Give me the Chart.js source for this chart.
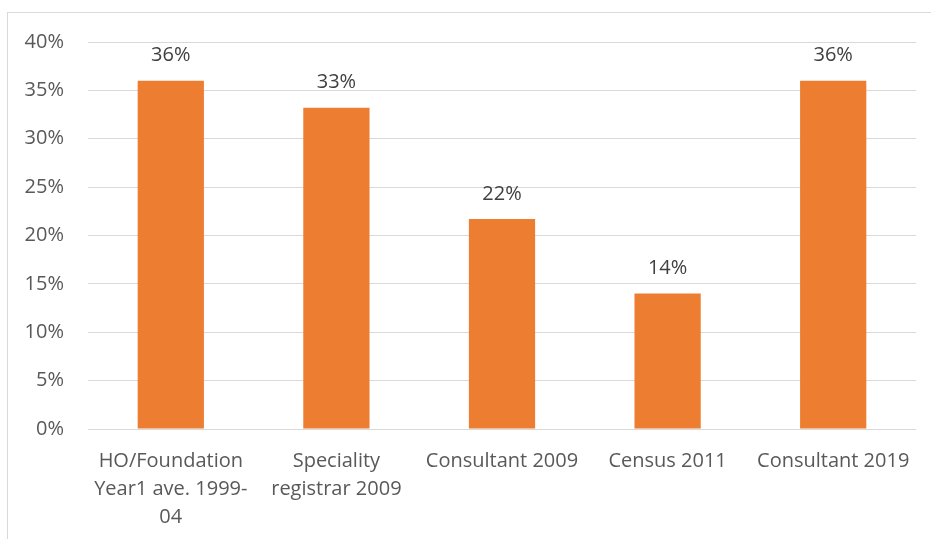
<!DOCTYPE html>
<html>
<head>
<meta charset="utf-8">
<script src="https://cdn.jsdelivr.net/npm/chart.js@4/dist/chart.umd.min.js"></script>
<style>
  html, body { margin: 0; padding: 0; background: #fff; }
  #wrap { position: relative; width: 931px; height: 539px; overflow: hidden; }
  #frame { position: absolute; left: 7px; top: 12px; width: 1000px; height: 600px;
           border: 1px solid #D9D9D9; box-sizing: border-box; }
  canvas { position: absolute; left: 0; top: 0; }
</style>
</head>
<body>
<div id="wrap">
  <div id="frame"></div>
  <canvas id="c" width="931" height="539"></canvas>
</div>
<script>
// Share of women in each grade / survey
const categories = [
  ["HO/Foundation", "Year1 ave. 1999-", "04"],
  ["Speciality", "registrar 2009"],
  "Consultant 2009",
  "Census 2011",
  "Consultant 2019"
];
const shares = [0.36, 0.332, 0.217, 0.14, 0.36];
const yTicks = [0, 0.05, 0.10, 0.15, 0.20, 0.25, 0.30, 0.35, 0.40];

const FONT = "'Open Sans', sans-serif";
const pct = v => Math.round(v * 100) + "%";

// Writes each bar's value above it
const valueLabels = {
  id: "valueLabels",
  afterDatasetsDraw(chart) {
    const ctx = chart.ctx;
    const meta = chart.getDatasetMeta(0);
    ctx.save();
    ctx.font = "20px " + FONT;
    ctx.fillStyle = "#404040";
    ctx.textAlign = "center";
    ctx.textBaseline = "middle";
    meta.data.forEach((bar, i) => {
      ctx.fillText(pct(shares[i]), bar.x, bar.y - 25);
    });
    ctx.restore();
  }
};

new Chart(document.getElementById("c"), {
  type: "bar",
  data: {
    labels: categories,
    datasets: [{
      data: shares,
      backgroundColor: "#ED7D31",
      borderWidth: 0,
      categoryPercentage: 1,
      barPercentage: 0.4
    }]
  },
  options: {
    responsive: false,
    animation: false,
    layout: { padding: { top: 42, right: 15, left: 0, bottom: 0 } },
    plugins: { legend: { display: false }, tooltip: { enabled: false } },
    scales: {
      x: {
        grid: { display: false, drawTicks: false },
        border: { display: false },
        ticks: {
          color: "#595959",
          font: { family: FONT, size: 20, lineHeight: 1.4 },
          padding: 18,
          maxRotation: 0,
          autoSkip: false
        },
        afterFit(s) { s.height = 539 - 429; }
      },
      y: {
        min: 0,
        max: 0.4,
        afterBuildTicks(s) { s.ticks = yTicks.map(v => ({ value: v })); },
        grid: { color: "#D9D9D9", lineWidth: 1, drawTicks: false },
        border: { display: false },
        ticks: {
          color: "#595959",
          font: { family: FONT, size: 20 },
          padding: 24,
          callback: v => pct(v)
        },
        afterFit(s) { s.width = 88; }
      }
    }
  },
  plugins: [valueLabels]
});
</script>
</body>
</html>
